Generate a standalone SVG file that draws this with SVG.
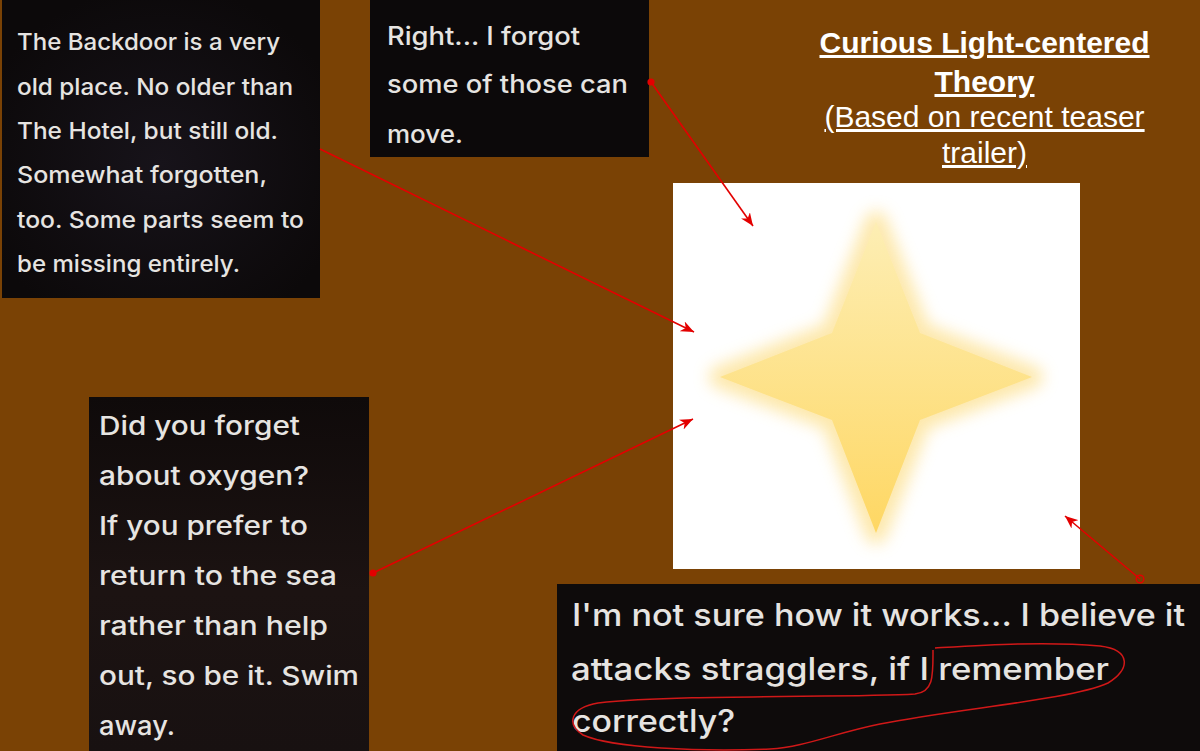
<svg xmlns="http://www.w3.org/2000/svg" width="1200" height="751" viewBox="0 0 1200 751">
<style>
.bodytext{font-family:Inter,"Open Sans","Noto Sans","Liberation Sans",sans-serif;font-weight:500;fill:#e6e4e1}
.title{font-family:"Liberation Sans",Arial,sans-serif;fill:#ffffff;text-decoration:underline;text-anchor:middle;font-size:30px}
.conn{fill:none;stroke:#e30000;stroke-width:1.6}
</style>
<defs>
<marker id="arrow" viewBox="0 0 12 10" refX="12" refY="5" markerWidth="13" markerHeight="11" markerUnits="userSpaceOnUse" orient="auto">
<path d="M0,0 L12,5 L0,10 L3.5,5 Z" fill="#e30000"/>
</marker>
<marker id="dot" viewBox="0 0 8 8" refX="4" refY="4" markerWidth="8" markerHeight="8" markerUnits="userSpaceOnUse">
<circle cx="4" cy="4" r="3.6" fill="#e30000"/>
</marker>
<marker id="ring" viewBox="0 0 10 10" refX="5" refY="5" markerWidth="10" markerHeight="10" markerUnits="userSpaceOnUse">
<circle cx="5" cy="5" r="3.8" fill="none" stroke="#e30000" stroke-width="1.4"/>
</marker>
<linearGradient id="starFill" x1="0" y1="222" x2="0" y2="533" gradientUnits="userSpaceOnUse">
<stop offset="0" stop-color="#fdeeb4"/>
<stop offset="1" stop-color="#fed763"/>
</linearGradient>
<filter id="glow" x="-30%" y="-30%" width="160%" height="160%">
<feGaussianBlur stdDeviation="8"/>
</filter>
<radialGradient id="haze1" cx="0.5" cy="0.55" r="0.6">
<stop offset="0" stop-color="#17131a"/>
<stop offset="1" stop-color="#0c090a"/>
</radialGradient>
<linearGradient id="haze3" x1="0" y1="0" x2="0" y2="1">
<stop offset="0" stop-color="#0f0a0a"/>
<stop offset="0.55" stop-color="#1c1312"/>
<stop offset="1" stop-color="#181111"/>
</linearGradient>
</defs>

<rect x="0" y="0" width="1200" height="751" fill="#7a4205"/>

<g id="node-backdoor">
<rect x="2" y="0" width="318" height="298" fill="url(#haze1)"/>
<text class="bodytext" font-size="23.5" x="17" y="50" textLength="263" lengthAdjust="spacingAndGlyphs">The Backdoor is a very</text>
<text class="bodytext" font-size="23.5" x="17" y="94.5" textLength="276" lengthAdjust="spacingAndGlyphs">old place. No older than</text>
<text class="bodytext" font-size="23.5" x="17" y="139" textLength="261" lengthAdjust="spacingAndGlyphs">The Hotel, but still old.</text>
<text class="bodytext" font-size="23.5" x="17" y="183" textLength="250" lengthAdjust="spacingAndGlyphs">Somewhat forgotten,</text>
<text class="bodytext" font-size="23.5" x="17" y="227.5" textLength="287" lengthAdjust="spacingAndGlyphs">too. Some parts seem to</text>
<text class="bodytext" font-size="23.5" x="17" y="272" textLength="223" lengthAdjust="spacingAndGlyphs">be missing entirely.</text>
</g>

<g id="node-forgot">
<rect x="370" y="0" width="279" height="157" fill="#0c090a"/>
<text class="bodytext" font-size="25" x="387" y="45" textLength="193" lengthAdjust="spacingAndGlyphs">Right... I forgot</text>
<text class="bodytext" font-size="25" x="387" y="93" textLength="241" lengthAdjust="spacingAndGlyphs">some of those can</text>
<text class="bodytext" font-size="25" x="387" y="143" textLength="76" lengthAdjust="spacingAndGlyphs">move.</text>
</g>

<g id="node-title">
<text class="title" x="984.5" y="53" font-weight="bold">Curious Light-centered</text>
<text class="title" x="984.5" y="92" font-weight="bold">Theory</text>
<text class="title" x="984.5" y="127">(Based on recent teaser</text>
<text class="title" x="984.5" y="163">trailer)</text>
</g>

<g id="node-star">
<rect x="673" y="183" width="407" height="386" fill="#ffffff"/>
<polygon points="876,222 920,333 1032,377 920,420 876,533 832,420 720,377 832,333" fill="#fde39a" stroke="#fde6a4" stroke-width="22" stroke-linejoin="round" filter="url(#glow)" opacity="0.9"/>
<polygon points="876,222 920,333 1032,377 920,420 876,533 832,420 720,377 832,333" fill="url(#starFill)"/>
</g>

<g id="node-oxygen">
<rect x="89" y="397" width="280" height="354" fill="url(#haze3)"/>
<text class="bodytext" font-size="26" x="99" y="435" textLength="201" lengthAdjust="spacingAndGlyphs">Did you forget</text>
<text class="bodytext" font-size="26" x="99" y="485" textLength="210" lengthAdjust="spacingAndGlyphs">about oxygen?</text>
<text class="bodytext" font-size="26" x="99" y="535" textLength="209" lengthAdjust="spacingAndGlyphs">If you prefer to</text>
<text class="bodytext" font-size="26" x="99" y="585" textLength="238" lengthAdjust="spacingAndGlyphs">return to the sea</text>
<text class="bodytext" font-size="26" x="99" y="635" textLength="229" lengthAdjust="spacingAndGlyphs">rather than help</text>
<text class="bodytext" font-size="26" x="99" y="685" textLength="260" lengthAdjust="spacingAndGlyphs">out, so be it. Swim</text>
<text class="bodytext" font-size="26" x="99" y="735" textLength="76" lengthAdjust="spacingAndGlyphs">away.</text>
</g>

<g id="node-stragglers">
<rect x="557" y="584" width="643" height="167" fill="#0e0b0b"/>
<text class="bodytext" font-size="31" x="572" y="626" textLength="613" lengthAdjust="spacingAndGlyphs">I'm not sure how it works... I believe it</text>
<text class="bodytext" font-size="31" x="571" y="680" textLength="538" lengthAdjust="spacingAndGlyphs">attacks stragglers, if I remember</text>
<text class="bodytext" font-size="31" x="572" y="732" textLength="163" lengthAdjust="spacingAndGlyphs">correctly?</text>
</g>

<g id="connectors">
<path class="conn" d="M320,149 L694,332" marker-end="url(#arrow)"/>
<path class="conn" d="M651,82 L753,226" marker-start="url(#dot)" marker-end="url(#arrow)"/>
<path class="conn" d="M373,573 L693,419" marker-start="url(#dot)" marker-end="url(#arrow)"/>
<path class="conn" d="M1140,579 L1065,516" marker-start="url(#ring)" marker-end="url(#arrow)"/>
</g>

<g id="scribble">
<path d="M935,648 C985,645 1045,641 1100,646 C1132,650 1130,670 1108,683 C1070,700 960,708 880,724 C835,733 805,747 770,749 C700,752 612,748 583,735 C566,724 570,708 598,703 C680,694 850,698 915,694 C934,692 933,675 933,650" fill="none" stroke="#d01818" stroke-width="1.5"/>
</g>
</svg>
